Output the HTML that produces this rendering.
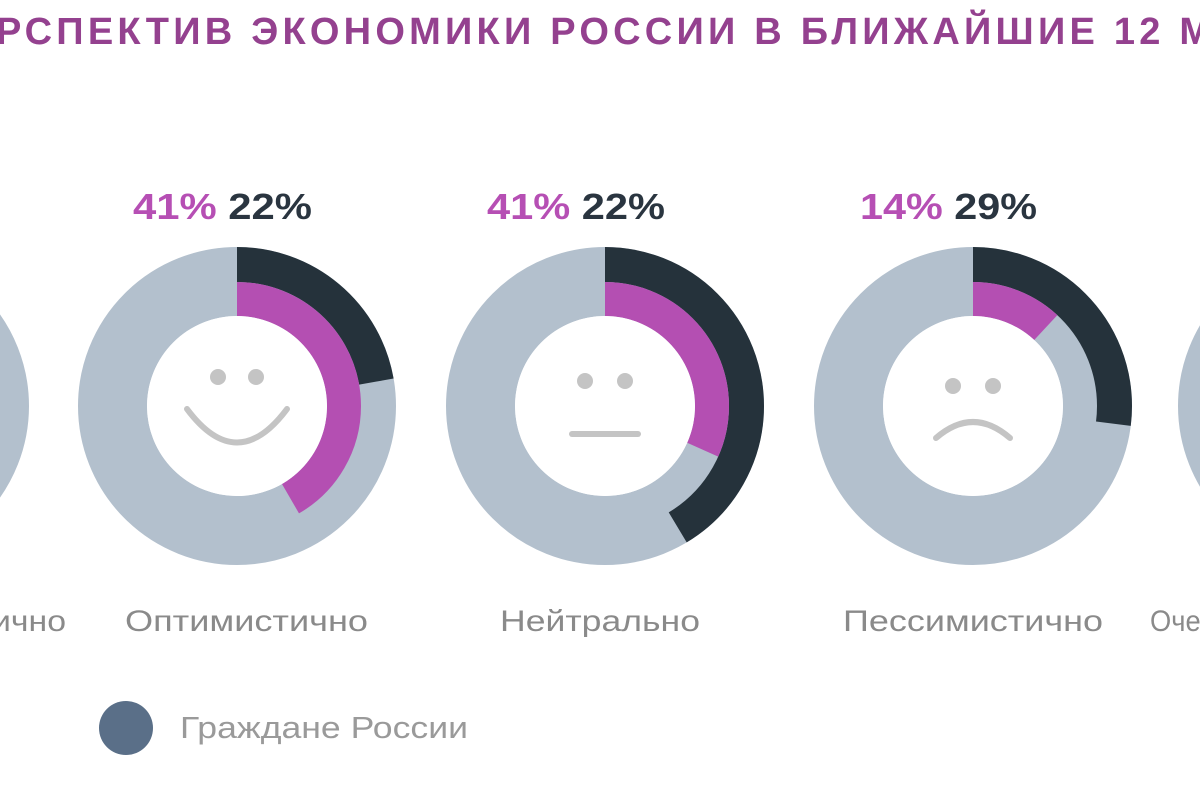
<!DOCTYPE html>
<html><head><meta charset="utf-8"><style>
html,body{margin:0;padding:0;background:#fff;width:1200px;height:800px;overflow:hidden}
</style></head><body>
<svg width="1200" height="800" xmlns="http://www.w3.org/2000/svg" font-family="'Liberation Sans','DejaVu Sans',sans-serif">
<text x="-4" y="44" font-size="38" font-weight="bold" fill="#94418f" textLength="1215" lengthAdjust="spacing">РСПЕКТИВ ЭКОНОМИКИ РОССИИ В БЛИЖАЙШИЕ 12 М</text>

<circle cx="-130" cy="406" r="124.5" fill="none" stroke="#b3c0cd" stroke-width="69"/>
<circle cx="1337" cy="406" r="124.5" fill="none" stroke="#b3c0cd" stroke-width="69"/>

<!-- donut 1 -->
<g transform="translate(237,406)">
<circle r="124.5" fill="none" stroke="#b3c0cd" stroke-width="69"/>
<circle r="141.5" fill="none" stroke="#25323b" stroke-width="35" stroke-dasharray="197.6 2000" transform="rotate(-90)"/>
<circle r="107" fill="none" stroke="#b44fb2" stroke-width="34" stroke-dasharray="280 2000" transform="rotate(-90)"/>
<circle r="90" fill="#fff"/>
<circle cx="-19" cy="-29" r="8" fill="#c4c4c4"/><circle cx="19" cy="-29" r="8" fill="#c4c4c4"/>
<path d="M-50 3 Q0 70 50 3" fill="none" stroke="#c4c4c4" stroke-width="6" stroke-linecap="round"/>
</g>
<text x="133" y="219" font-size="36" font-weight="bold" textLength="179" lengthAdjust="spacingAndGlyphs"><tspan fill="#b64fb4">41%</tspan><tspan fill="#2a3540"> 22%</tspan></text>
<text x="125" y="631" font-size="30" fill="#8a8a8a" textLength="243" lengthAdjust="spacingAndGlyphs">Оптимистично</text>

<!-- donut 2 -->
<g transform="translate(605,406)">
<circle r="124.5" fill="none" stroke="#b3c0cd" stroke-width="69"/>
<circle r="141.5" fill="none" stroke="#25323b" stroke-width="35" stroke-dasharray="368 2000" transform="rotate(-90)"/>
<circle r="107" fill="none" stroke="#b44fb2" stroke-width="34" stroke-dasharray="213 2000" transform="rotate(-90)"/>
<circle r="90" fill="#fff"/>
<circle cx="-20" cy="-25" r="8" fill="#c4c4c4"/><circle cx="20" cy="-25" r="8" fill="#c4c4c4"/>
<line x1="-33" y1="28" x2="33" y2="28" stroke="#c4c4c4" stroke-width="6" stroke-linecap="round"/>
</g>
<text x="487" y="219" font-size="36" font-weight="bold" textLength="178" lengthAdjust="spacingAndGlyphs"><tspan fill="#b64fb4">41%</tspan><tspan fill="#2a3540"> 22%</tspan></text>
<text x="500" y="631" font-size="30" fill="#8a8a8a" textLength="200" lengthAdjust="spacingAndGlyphs">Нейтрально</text>

<!-- donut 3 -->
<g transform="translate(973,406)">
<circle r="124.5" fill="none" stroke="#b3c0cd" stroke-width="69"/>
<circle r="141.5" fill="none" stroke="#25323b" stroke-width="35" stroke-dasharray="240 2000" transform="rotate(-90)"/>
<circle r="107" fill="none" stroke="#b44fb2" stroke-width="34" stroke-dasharray="80 2000" transform="rotate(-90)"/>
<circle r="90" fill="#fff"/>
<circle cx="-20" cy="-20" r="8" fill="#c4c4c4"/><circle cx="20" cy="-20" r="8" fill="#c4c4c4"/>
<path d="M-37 32 Q0 0 37 32" fill="none" stroke="#c4c4c4" stroke-width="6" stroke-linecap="round"/>
</g>
<text x="860" y="219" font-size="36" font-weight="bold" textLength="177" lengthAdjust="spacingAndGlyphs"><tspan fill="#b64fb4">14%</tspan><tspan fill="#2a3540"> 29%</tspan></text>
<text x="843" y="631" font-size="30" fill="#8a8a8a" textLength="260" lengthAdjust="spacingAndGlyphs">Пессимистично</text>

<text x="-8" y="631" font-size="30" fill="#8a8a8a" textLength="74" lengthAdjust="spacingAndGlyphs">ично</text>
<text x="1150" y="631" font-size="30" fill="#8a8a8a" textLength="80" lengthAdjust="spacingAndGlyphs">Очень</text>

<circle cx="126" cy="728" r="27" fill="#5a6f88"/>
<text x="180" y="738" font-size="31" fill="#9a9a9a" textLength="288" lengthAdjust="spacingAndGlyphs">Граждане России</text>
</svg>
</body></html>
